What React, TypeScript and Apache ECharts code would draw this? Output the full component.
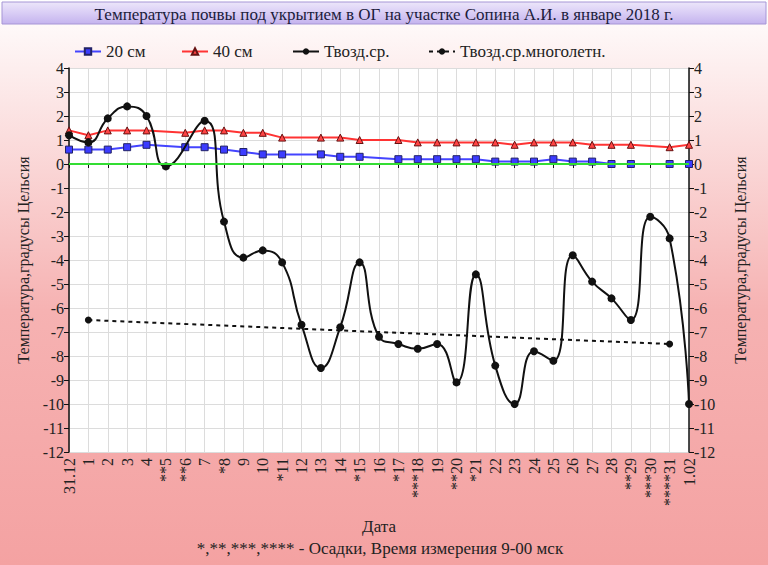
import React, { useEffect, useRef } from "react";
import * as echarts from "echarts";

const categories = ["31.12","1","2","3","4","**5","**6","7","*8","9","10","*11","12","13","14","*15","16","*17","***18","19","**20","*21","22","23","24","25","26","27","28","**29","***30","****31","1.02"];
const soil20 = [0.6,0.6,0.6,0.7,0.8,null,0.7,0.7,0.6,0.5,0.4,0.4,null,0.4,0.3,0.3,null,0.2,0.2,0.2,0.2,0.2,0.1,0.1,0.1,0.2,0.1,0.1,0,0,null,0,0];
const soil40 = [1.4,1.2,1.4,1.4,1.4,null,1.3,1.4,1.4,1.3,1.3,1.1,null,1.1,1.1,1.0,null,1.0,0.9,0.9,0.9,0.9,0.9,0.8,0.9,0.9,0.9,0.8,0.8,0.8,null,0.7,0.8];
const airMean = [1.2,0.9,1.9,2.4,2.0,-0.1,null,1.8,-2.4,-3.9,-3.6,-4.1,-6.7,-8.5,-6.8,-4.1,-7.2,-7.5,-7.7,-7.5,-9.1,-4.6,-8.4,-10.0,-7.8,-8.2,-3.8,-4.9,-5.6,-6.5,-2.2,-3.1,-10.0];
const airNorm = [null,-6.5,null,null,null,null,null,null,null,null,null,null,null,null,null,null,null,null,null,null,null,null,null,null,null,null,null,null,null,null,null,-7.5,null];
const seriesNames = ["20 см", "40 см", "Твозд.ср.", "Твозд.ср.многолетн."];
const titleText = "Температура почвы под укрытием в ОГ на участке Сопина А.И. в январе 2018 г.";
const yName = "Температура,градусы Цельсия";
const xName = "Дата";
const footnote = "*,**,***,**** - Осадки, Время измерения 9-00 мск";
const Y_MIN = -12;
const Y_MAX = 4;

const FONT = '"Liberation Serif", "DejaVu Serif", serif';
const LEGEND_LEFT = [69, 176, 287, 423];

export default function App() {
  const ref = useRef<HTMLDivElement>(null);
  useEffect(() => {
    document.body.style.margin = "0";
    const chart = echarts.init(ref.current!, null, { renderer: "svg" });
    const yAxisBase = {
      type: "value",
      min: Y_MIN,
      max: Y_MAX,
      interval: 1,
      axisLine: { show: true, lineStyle: { color: "#111", width: 1.5 } },
      axisTick: { show: true, length: 5, lineStyle: { color: "#111" } },
      axisLabel: { fontFamily: FONT, fontSize: 16, color: "#222", margin: 5 },
      name: yName,
      nameLocation: "middle",
      nameTextStyle: { fontFamily: FONT, fontSize: 16, color: "#222" },
    };
    chart.setOption({
      animation: false,
      backgroundColor: {
        type: "linear", x: 0, y: 0, x2: 0, y2: 1,
        colorStops: [
          { offset: 0, color: "#ffffff" },
          { offset: 0.55, color: "#f6b2b2" },
          { offset: 1, color: "#f4a2a2" },
        ],
      },
      graphic: [
        {
          type: "rect",
          shape: { x: 2, y: 2, width: 764, height: 22 },
          style: {
            fill: {
              type: "linear", x: 0, y: 0, x2: 0, y2: 1,
              colorStops: [
                { offset: 0, color: "#ece6fa" },
                { offset: 0.5, color: "#d9cdf5" },
                { offset: 1, color: "#c4b3ee" },
              ],
            },
            stroke: "#a696d6",
            lineWidth: 1,
          },
        },
        {
          type: "text",
          x: 384, y: 14,
          style: {
            text: titleText,
            fontFamily: FONT, fontSize: 17, fill: "#1c1c3c",
            textAlign: "center", textVerticalAlign: "middle",
          },
        },
        {
          type: "text",
          x: 380, y: 548,
          style: {
            text: footnote,
            fontFamily: FONT, fontSize: 17, fill: "#222",
            textAlign: "center", textVerticalAlign: "middle",
          },
        },
      ],
      legend: seriesNames.map((n, i) => ({
        data: [n],
        left: LEGEND_LEFT[i],
        top: 38,
        itemWidth: 26,
        itemHeight: 8,
        textStyle: { fontFamily: FONT, fontSize: 17, color: "#222" },
      })),
      grid: {
        left: 69, right: 79, top: 68, bottom: 113,
        show: true, backgroundColor: "#ffffff", borderWidth: 0,
      },
      xAxis: {
        type: "category",
        data: categories,
        boundaryGap: false,
        axisLine: { lineStyle: { color: "#111", width: 1.5 } },
        axisTick: { show: true, alignWithLabel: true, interval: 0, length: 4, lineStyle: { color: "#111" } },
        axisLabel: { interval: 0, rotate: 90, fontFamily: FONT, fontSize: 16, color: "#222", margin: 6 },
        splitLine: { show: true, interval: 0, lineStyle: { color: "#dcdcdc" } },
        name: xName,
        nameLocation: "middle",
        nameGap: 66,
        nameTextStyle: { fontFamily: FONT, fontSize: 17, color: "#222" },
      },
      yAxis: [
        { ...yAxisBase, position: "left", nameGap: 36, splitLine: { show: true, lineStyle: { color: "#dcdcdc" } } },
        { ...yAxisBase, position: "right", nameGap: 43, splitLine: { show: false } },
      ],
      series: [
        {
          name: seriesNames[0],
          type: "line",
          data: soil20,
          connectNulls: true,
          symbol: "rect",
          symbolSize: 7,
          itemStyle: { color: "#3c3cff", borderColor: "#222266", borderWidth: 1 },
          lineStyle: { color: "#4444ff", width: 2 },
          markLine: {
            silent: true,
            symbol: "none",
            label: { show: false },
            lineStyle: { color: "#33dd33", width: 2, type: "solid" },
            data: [{ yAxis: 0 }],
          },
          z: 3,
        },
        {
          name: seriesNames[1],
          type: "line",
          data: soil40,
          connectNulls: true,
          symbol: "triangle",
          symbolSize: 7,
          itemStyle: { color: "#ff4444", borderColor: "#661111", borderWidth: 1 },
          lineStyle: { color: "#ff3333", width: 2 },
          z: 3,
        },
        {
          name: seriesNames[2],
          type: "line",
          data: airMean,
          connectNulls: true,
          smooth: 0.5,
          symbol: "circle",
          symbolSize: 8,
          itemStyle: { color: "#111" },
          lineStyle: { color: "#111", width: 2 },
          z: 4,
        },
        {
          name: seriesNames[3],
          type: "line",
          data: airNorm,
          connectNulls: true,
          symbol: "circle",
          symbolSize: 7,
          itemStyle: { color: "#111" },
          lineStyle: { color: "#111", width: 2, type: [4, 4] },
          z: 4,
        },
      ],
    });
    return () => chart.dispose();
  }, []);
  return <div ref={ref} style={{ width: 768, height: 565 }} />;
}
